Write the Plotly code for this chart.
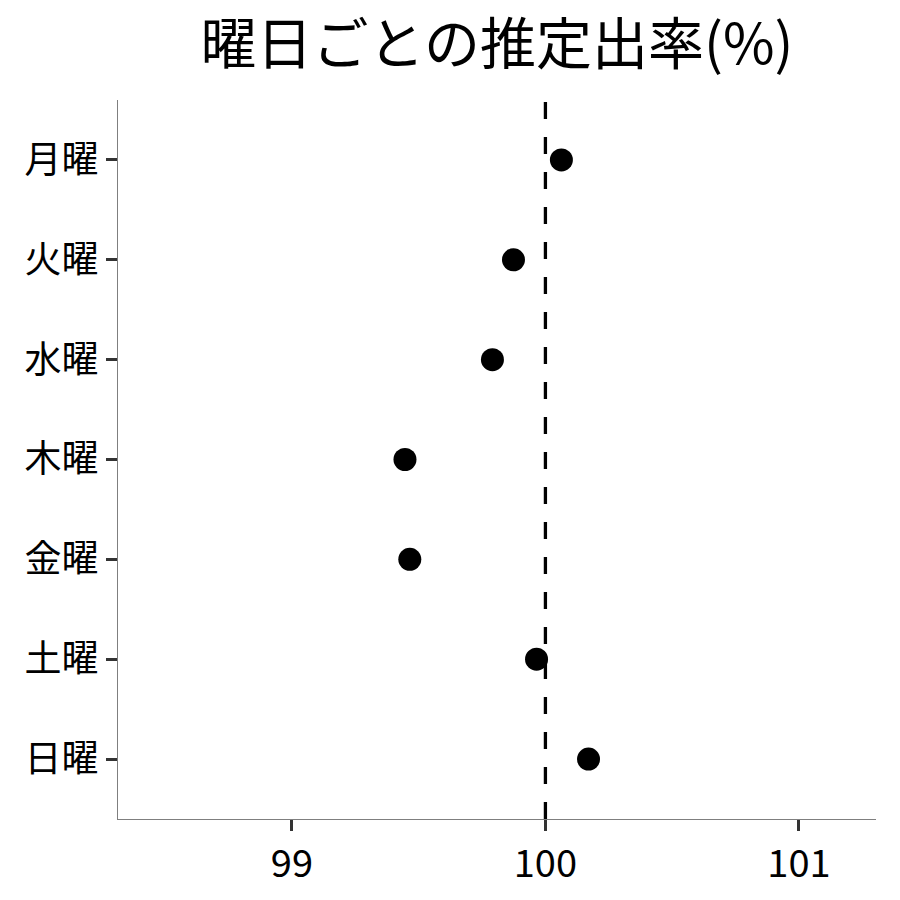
import plotly.graph_objects as go

days = ["月曜", "火曜", "水曜", "木曜", "金曜", "土曜", "日曜"]
rates = [100.063, 99.874, 99.791, 99.446, 99.465, 99.965, 100.170]
x_ticks = [99, 100, 101]
ref_value = 100

font_family = "Noto Sans CJK JP"

fig = go.Figure()
fig.add_trace(go.Scatter(
    x=rates, y=days, mode="markers",
    marker=dict(size=23, color="black"),
    showlegend=False, cliponaxis=False,
))
fig.add_shape(type="line", xref="x", yref="paper",
              x0=ref_value, x1=ref_value, y0=0, y1=1,
              line=dict(color="black", width=3.3, dash="17px,18px"))

fig.update_layout(
    width=900, height=900,
    margin=dict(l=118, r=24, t=100, b=81),
    paper_bgcolor="white", plot_bgcolor="white",
    font=dict(family=font_family, color="black"),
    title=dict(text="曜日ごとの推定出率(%)", xref="paper", x=0.5, xanchor="center",
               y=0.951, yanchor="middle",
               font=dict(size=56, family=font_family, color="black")),
)
fig.update_xaxes(
    range=[98.314, 101.304], tickvals=x_ticks, ticktext=[str(v) for v in x_ticks],
    showgrid=False, zeroline=False,
    showline=True, linecolor="#7f7f7f", linewidth=1.3,
    ticks="outside", ticklen=11, tickwidth=3, tickcolor="#333333",
    tickfont=dict(size=38, family=font_family, color="black"),
)
fig.update_yaxes(
    type="category", categoryorder="array", categoryarray=days,
    range=[6.6, -0.6],
    showgrid=False, zeroline=False,
    showline=True, linecolor="#7f7f7f", linewidth=1.3,
    ticks="outside", ticklen=11, tickwidth=3, tickcolor="#333333",
    tickfont=dict(size=37, family=font_family, color="black"),
)

fig.write_html("out.html", config={"displayModeBar": False},
               post_script="document.body.style.margin='0px';")
